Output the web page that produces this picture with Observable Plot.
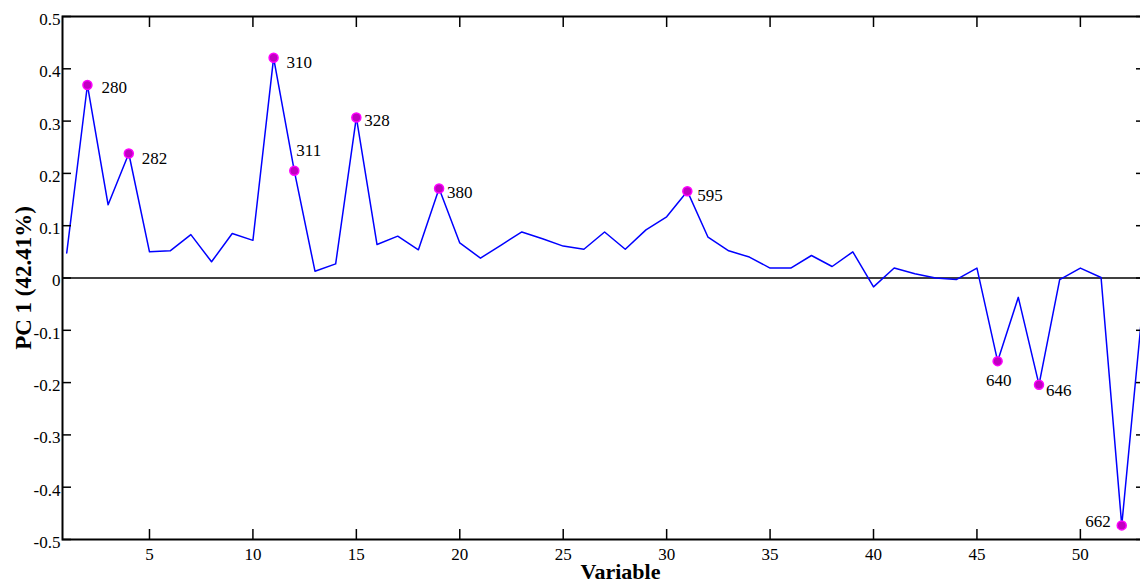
<!DOCTYPE html>
<html>
<head>
<meta charset="utf-8">
<script src="https://cdn.jsdelivr.net/npm/d3@7"></script>
<script src="https://cdn.jsdelivr.net/npm/@observablehq/plot@0.6"></script>
<style>
html, body { margin: 0; padding: 0; background: #fff; }
#chart { width: 1140px; height: 583px; overflow: hidden; }
</style>
</head>
<body>
<div id="chart"></div>
<script>
// ---- data ----
const variables = d3.range(1, 54);
const pc1 = [
  0.048, 0.369, 0.140, 0.238, 0.050, 0.052, 0.083, 0.031, 0.085, 0.072,
  0.421, 0.205, 0.013, 0.027, 0.307, 0.064, 0.080, 0.054, 0.171, 0.067,
  0.038, 0.063, 0.088, 0.075, 0.061, 0.055, 0.088, 0.055, 0.092, 0.117,
  0.166, 0.078, 0.052, 0.040, 0.019, 0.019, 0.043, 0.022, 0.050, -0.017,
  0.019, 0.008, 0.000, -0.003, 0.019, -0.159, -0.037, -0.204, -0.003, 0.019,
  0.001, -0.473, -0.058
];
const peakVariables = [2, 4, 11, 12, 15, 19, 31, 46, 48, 52];
const peakLabels = ["280", "282", "310", "311", "328", "380", "595", "640", "646", "662"];
const xTicks = [5, 10, 15, 20, 25, 30, 35, 40, 45, 50];
const yTicks = [-0.5, -0.4, -0.3, -0.2, -0.1, 0, 0.1, 0.2, 0.3, 0.4, 0.5];
const xTitle = "Variable";
const yTitle = "PC 1 (42.41%)";

// ---- label placement (style) ----
const labelPlacement = {
  "280": {dx: 14, dy: 3, textAnchor: "start"},
  "282": {dx: 13, dy: 5, textAnchor: "start"},
  "310": {dx: 13, dy: 5, textAnchor: "start"},
  "311": {dx: 2, dy: -20, textAnchor: "start"},
  "328": {dx: 8, dy: 3, textAnchor: "start"},
  "380": {dx: 8, dy: 4, textAnchor: "start"},
  "595": {dx: 10, dy: 4, textAnchor: "start"},
  "640": {dx: 1, dy: 19, textAnchor: "middle"},
  "646": {dx: 7, dy: 6, textAnchor: "start"},
  "662": {dx: -11, dy: -4, textAnchor: "end"}
};

const series = variables.map((v, i) => ({variable: v, value: pc1[i]}));
const peaks = peakVariables.map((v, i) => ({variable: v, value: pc1[v - 1], label: peakLabels[i]}));

const fmt = d => d === 0 ? "0" : d.toFixed(1);
const serif = "'Liberation Serif', 'Times New Roman', serif";

const labelMarks = peaks.map(p => Plot.text([p], {
  x: "variable", y: "value", text: "label",
  dx: labelPlacement[p.label].dx, dy: labelPlacement[p.label].dy,
  textAnchor: labelPlacement[p.label].textAnchor, lineAnchor: "middle",
  fontSize: 17, fill: "black"
}));

const chart = Plot.plot({
  width: 1145, height: 583,
  marginTop: 16, marginBottom: 44, marginLeft: 62, marginRight: 1,
  style: {fontFamily: serif, fontSize: "17px", color: "black", background: "white", maxWidth: "none"},
  x: {domain: [0.795, 53.1]},
  y: {domain: [-0.5, 0.5]},
  marks: [
    Plot.ruleY([0], {stroke: "black", strokeWidth: 1.5}),
    Plot.line(series, {x: "variable", y: "value", stroke: "#0000ff", strokeWidth: 1.5}),
    Plot.dot(peaks, {x: "variable", y: "value", r: 4.5, fill: "#c000c0", stroke: "#ff00ff", strokeWidth: 1.5}),
    ...labelMarks,
    // inward ticks
    Plot.axisY(yTicks, {anchor: "left", tickSize: -9, fill: "none", stroke: "black", strokeWidth: 1.5, label: null}),
    Plot.axisY(yTicks, {anchor: "right", tickSize: -9, fill: "none", stroke: "black", strokeWidth: 1.5, label: null}),
    Plot.axisX(xTicks, {anchor: "bottom", tickSize: -10, fill: "none", stroke: "black", strokeWidth: 1.5, label: null}),
    Plot.axisX(xTicks, {anchor: "top", tickSize: -10, fill: "none", stroke: "black", strokeWidth: 1.5, label: null}),
    // tick labels
    Plot.axisY(yTicks, {anchor: "left", tickSize: 0, tickPadding: 2, dy: 3, tickFormat: fmt, fontSize: 17, fill: "black", label: null}),
    Plot.axisX(xTicks, {anchor: "bottom", tickSize: 0, tickPadding: 8, tickFormat: d => String(d), fontSize: 17, fill: "black", label: null}),
    Plot.frame({stroke: "black", strokeWidth: 2}),
    // axis titles
    Plot.text([yTitle], {frameAnchor: "left", rotate: -90, dx: -39, text: d => d, fontSize: 23, fontWeight: "bold", fill: "black", lineAnchor: "middle", textAnchor: "middle"}),
    Plot.text([xTitle], {frameAnchor: "bottom", dx: 17, dy: 39, text: d => d, fontSize: 22, fontWeight: "bold", fill: "black", lineAnchor: "bottom", textAnchor: "middle"})
  ]
});
document.getElementById("chart").appendChild(chart);
</script>
</body>
</html>
